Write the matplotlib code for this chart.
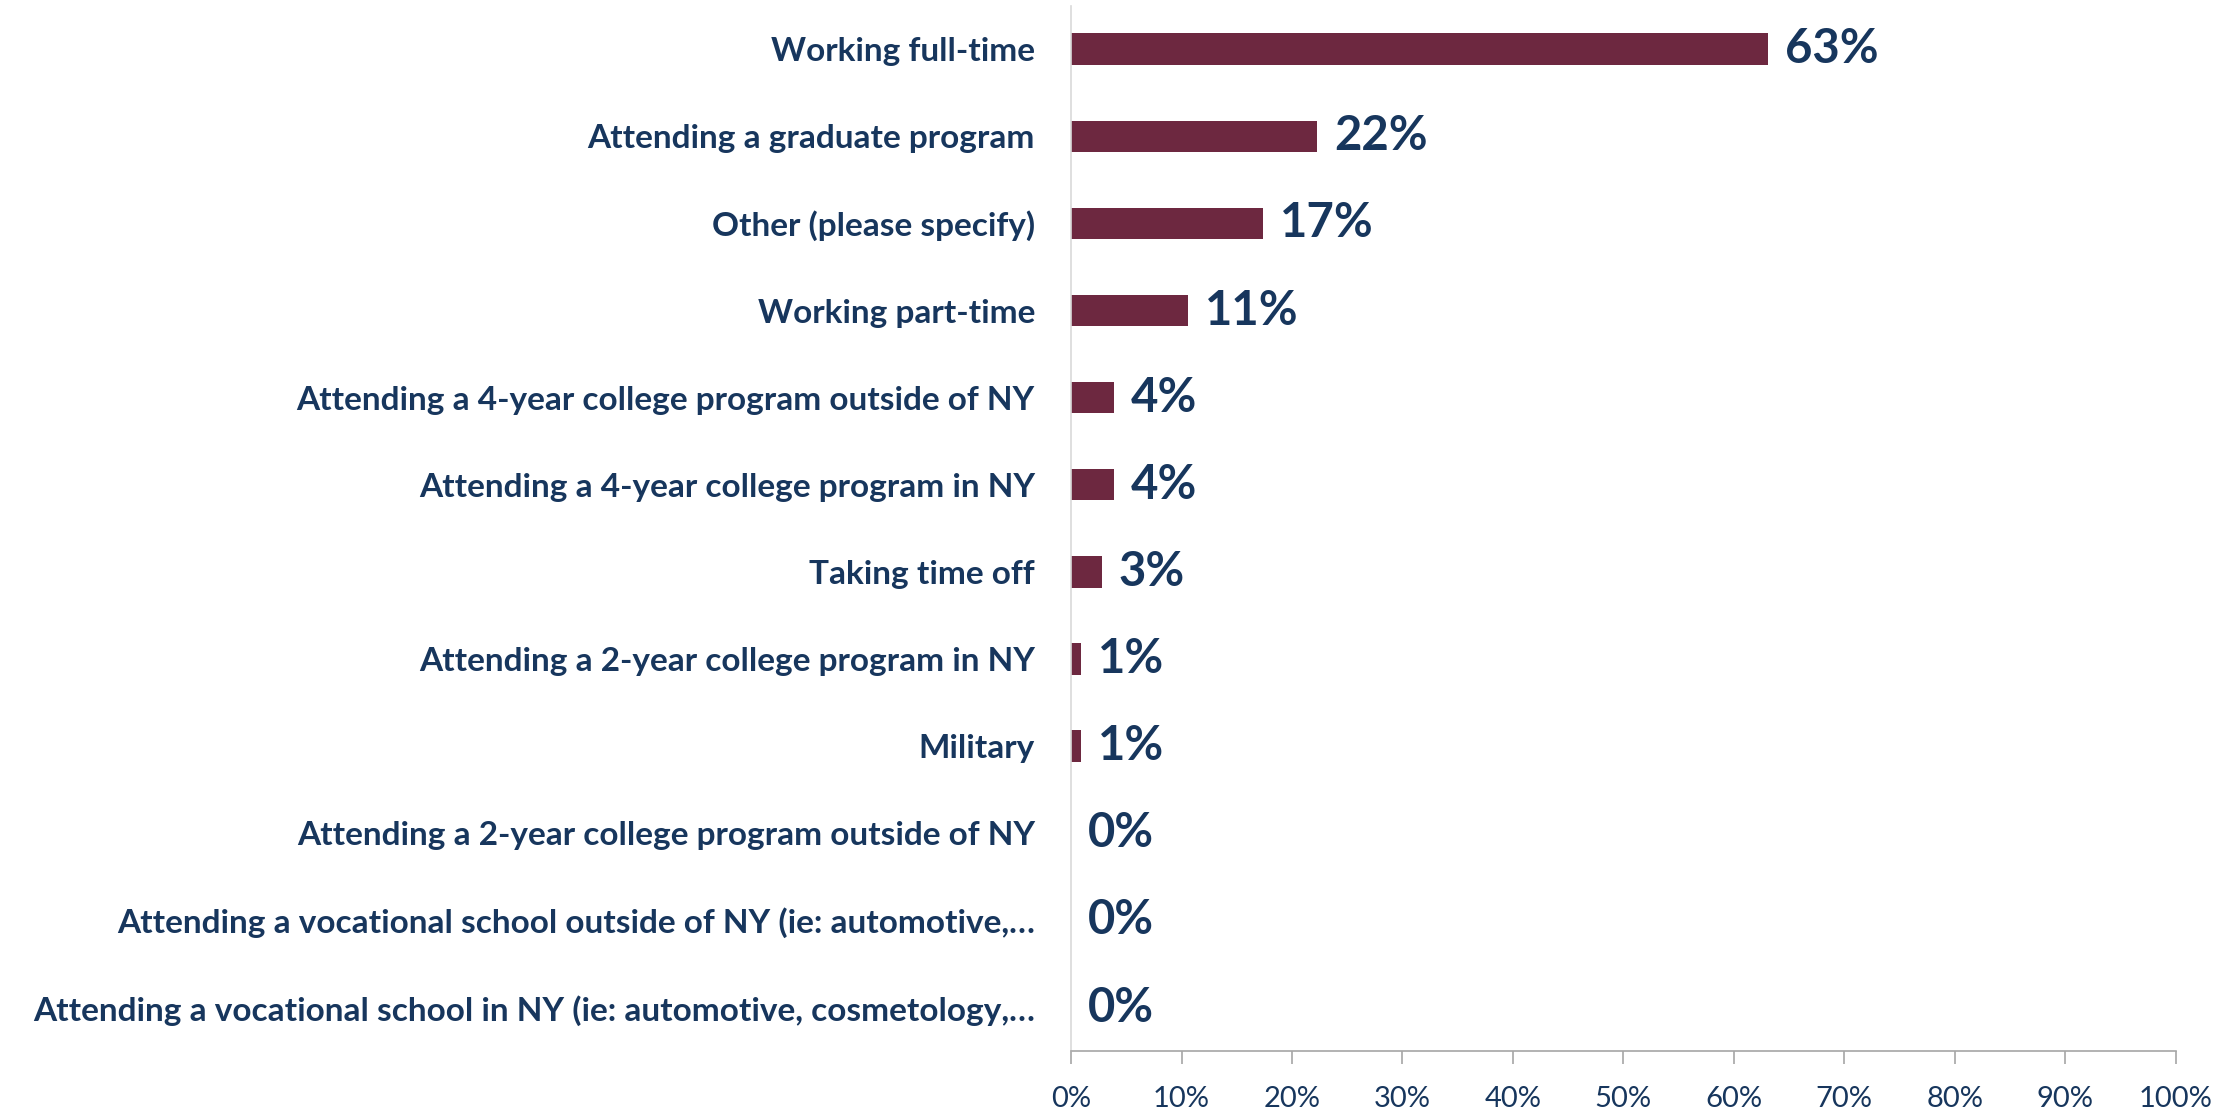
import matplotlib.pyplot as plt
import numpy as np

categories = [
    "Working full-time",
    "Attending a graduate program",
    "Other (please specify)",
    "Working part-time",
    "Attending a 4-year college program outside of NY",
    "Attending a 4-year college program in NY",
    "Taking time off",
    "Attending a 2-year college program in NY",
    "Military",
    "Attending a 2-year college program outside of NY",
    "Attending a vocational school outside of NY (ie: automotive,\u2026",
    "Attending a vocational school in NY (ie: automotive, cosmetology,\u2026",
]
values = [63.1, 22.3, 17.4, 10.6, 3.9, 3.9, 2.8, 0.9, 0.9, 0.0, 0.0, 0.0]
xticks = list(range(0, 101, 10))

bar_color = "#6D2840"
text_color = "#17365D"

plt.rcParams['font.family'] = ['Lato', 'DejaVu Sans']

fig = plt.figure(figsize=(22.36, 11.17), dpi=100)
ax = fig.add_axes([0.479, 0.059, 0.494, 0.936])

y = np.arange(len(categories))
ax.barh(y, values, height=0.36, color=bar_color)
ax.set_ylim(len(categories) - 0.5, -0.5)
ax.set_xlim(0, 100)

# etiquetas de valor
for yi, v in zip(y, values):
    ax.annotate(f"{round(v):.0f}%", xy=(v, yi), xytext=(12, 0),
                textcoords="offset points", va="center", ha="left",
                fontsize=34, fontweight="bold", color=text_color)

ax.set_yticks(y)
ax.set_yticklabels(categories, fontsize=24, fontweight="bold", color=text_color)
ax.tick_params(axis="y", length=0, pad=26)

ax.set_xticks(xticks)
ax.set_xticklabels([f"{t}%" for t in xticks], fontsize=21, color=text_color)
ax.tick_params(axis="x", length=9, width=1.2, color="#A6A6A6", pad=16)

for s in ["top", "right"]:
    ax.spines[s].set_visible(False)
ax.spines["left"].set_color("#D9D9D9")
ax.spines["left"].set_linewidth(1.2)
ax.spines["bottom"].set_color("#A6A6A6")
ax.spines["bottom"].set_linewidth(1.2)

fig.savefig("out.png", dpi=100)
